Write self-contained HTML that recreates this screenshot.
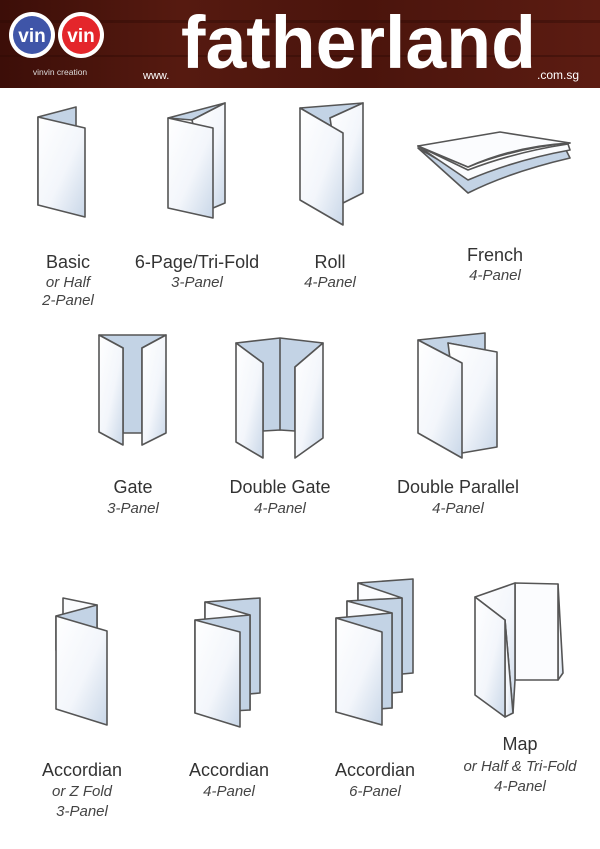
<!DOCTYPE html>
<html><head><meta charset="utf-8"><style>
html,body{margin:0;padding:0;background:#fff;}
svg{display:block;}
.t{font-family:"Liberation Sans",sans-serif;fill:#333;text-anchor:middle;font-size:18px;}
.i{font-family:"Liberation Sans",sans-serif;fill:#444;text-anchor:middle;font-size:15px;font-style:italic;}
.p{fill:url(#g);stroke:#555;stroke-width:1.6;stroke-linejoin:round;}
.b{fill:#c3d3e5;stroke:#555;stroke-width:1.6;stroke-linejoin:round;}
.w{fill:#fbfcfe;stroke:#555;stroke-width:1.6;stroke-linejoin:round;}
</style></head><body>
<svg width="600" height="849" viewBox="0 0 600 849" xmlns="http://www.w3.org/2000/svg">
<defs>
<linearGradient id="g" x1="0" y1="0" x2="1" y2="1"><stop offset="0" stop-color="#ffffff"/><stop offset="0.55" stop-color="#f3f6fb"/><stop offset="1" stop-color="#c9d7e8"/></linearGradient>
<linearGradient id="wood" x1="0" y1="0" x2="1" y2="0"><stop offset="0" stop-color="#3c0e08"/><stop offset="0.3" stop-color="#561a10"/><stop offset="0.6" stop-color="#4a140c"/><stop offset="1" stop-color="#5c1c12"/></linearGradient>
</defs>
<rect x="0" y="0" width="600" height="88" fill="url(#wood)"/>
<rect x="0" y="20" width="600" height="3" fill="#2e0905" opacity="0.4"/>
<rect x="0" y="55" width="600" height="2" fill="#2e0905" opacity="0.4"/>
<circle cx="32" cy="35" r="23" fill="#fff"/><circle cx="32" cy="35" r="19" fill="#3f55a8"/>
<circle cx="81" cy="35" r="23" fill="#fff"/><circle cx="81" cy="35" r="19" fill="#e4262b"/>
<text x="32" y="42" font-family="Liberation Sans,sans-serif" font-weight="bold" font-size="19" fill="#fff" text-anchor="middle">vin</text>
<text x="81" y="42" font-family="Liberation Sans,sans-serif" font-weight="bold" font-size="19" fill="#fff" text-anchor="middle">vin</text>
<text x="60" y="75" font-family="Liberation Sans,sans-serif" font-size="8.5" fill="#ddd" text-anchor="middle">vinvin creation</text>
<text x="143" y="79" font-family="Liberation Sans,sans-serif" font-size="11" fill="#fff">www.</text>
<text x="181" y="68" font-family="Liberation Sans,sans-serif" font-weight="bold" font-size="74" fill="#fff" textLength="355" lengthAdjust="spacingAndGlyphs">fatherland</text>
<text x="537" y="79" font-family="Liberation Sans,sans-serif" font-size="12" fill="#fff">.com.sg</text>

<!-- Basic -->
<polygon class="b" points="38,117 76,107 76,127 38,205"/>
<polygon class="p" points="38,117 85,128 85,217 38,205"/>
<!-- Tri-fold -->
<polygon class="b" points="168,118 225,103 192,120"/>
<polygon class="p" points="192,120 225,103 225,203 213,208"/>
<polygon class="p" points="168,118 213,128 213,218 168,208"/>
<!-- Roll -->
<polygon class="b" points="300,108 363,103 330,118 343,133"/>
<polygon class="p" points="330,118 363,103 363,193 343,203"/>
<polygon class="p" points="300,108 343,133 343,225 300,200"/>
<!-- French -->
<path class="b" d="M418,148 L468,193 Q510,172 570,158 L566,150 Q510,160 470,178 Z"/>
<path class="w" d="M418,146 L468,180 Q515,160 570,150 L568,144 Q515,152 468,170 Z"/>
<path class="b" d="M418,146 L468,167 Q515,148 570,143 L560,143 Q515,150 470,160 Z"/>
<path class="w" d="M418,146 L500,132 L570,143 Q515,146 468,167 Z"/>

<text class="t" x="68" y="268">Basic</text>
<text class="i" x="68" y="287">or Half</text>
<text class="i" x="68" y="305">2-Panel</text>
<text class="t" x="197" y="268">6-Page/Tri-Fold</text>
<text class="i" x="197" y="287">3-Panel</text>
<text class="t" x="330" y="268">Roll</text>
<text class="i" x="330" y="287">4-Panel</text>
<text class="t" x="495" y="261">French</text>
<text class="i" x="495" y="280">4-Panel</text>

<!-- Gate -->
<polygon class="b" points="99,335 166,335 142,348 142,433 123,433 123,348"/>
<polygon class="p" points="99,335 123,348 123,445 99,432"/>
<polygon class="p" points="142,348 166,335 166,433 142,445"/>
<!-- Double Gate -->
<polygon class="b" points="236,343 280,338 323,343 295,367 295,431 280,430 263,431 263,363"/>
<line x1="280" y1="338" x2="280" y2="430" stroke="#555" stroke-width="1.6"/>
<polygon class="p" points="236,343 263,363 263,458 236,442"/>
<polygon class="p" points="295,367 323,343 323,438 295,458"/>
<!-- Double Parallel -->
<polygon class="b" points="418,340 485,333 485,350 448,343 462,363"/>
<polygon class="p" points="448,343 497,352 497,447 462,453"/>
<polygon class="p" points="418,340 462,363 462,458 418,433"/>

<text class="t" x="133" y="493">Gate</text>
<text class="i" x="133" y="513">3-Panel</text>
<text class="t" x="280" y="493">Double Gate</text>
<text class="i" x="280" y="513">4-Panel</text>
<text class="t" x="458" y="493">Double Parallel</text>
<text class="i" x="458" y="513">4-Panel</text>

<!-- Accordion Z -->
<polygon class="w" points="63,598 97,605 97,640 63,630"/>
<polygon class="b" points="56,616 97,605 97,640 56,650"/>
<polygon class="p" points="56,616 107,631 107,725 56,709"/>
<!-- Accordion 4 -->
<polygon class="b" points="205,602 260,598 260,693 205,698"/>
<polygon class="w" points="205,602 250,615 250,710 205,698"/>
<polygon class="b" points="195,620 250,615 250,710 195,713"/>
<polygon class="p" points="195,620 240,632 240,727 195,713"/>
<!-- Accordion 6 -->
<polygon class="b" points="358,583 413,579 413,673 358,678"/>
<polygon class="w" points="358,583 402,598 402,692 358,678"/>
<polygon class="b" points="347,601 402,598 402,692 347,697"/>
<polygon class="w" points="347,601 392,613 392,708 347,697"/>
<polygon class="b" points="336,618 392,613 392,708 336,712"/>
<polygon class="p" points="336,618 382,632 382,725 336,712"/>
<!-- Map -->
<polygon class="p" points="558,584 563,673 558,680"/>
<polygon class="w" points="515,583 558,584 558,680 515,680"/>
<polygon class="p" points="475,597 515,583 515,680 513,713 505,620"/>
<polygon class="p" points="505,620 513,713 505,717"/>
<polygon class="p" points="475,597 505,620 505,717 475,695"/>

<text class="t" x="82" y="776">Accordian</text>
<text class="i" x="82" y="796">or Z Fold</text>
<text class="i" x="82" y="816">3-Panel</text>
<text class="t" x="229" y="776">Accordian</text>
<text class="i" x="229" y="796">4-Panel</text>
<text class="t" x="375" y="776">Accordian</text>
<text class="i" x="375" y="796">6-Panel</text>
<text class="t" x="520" y="750">Map</text>
<text class="i" x="520" y="771">or Half &amp; Tri-Fold</text>
<text class="i" x="520" y="791">4-Panel</text>
</svg>
</body></html>
